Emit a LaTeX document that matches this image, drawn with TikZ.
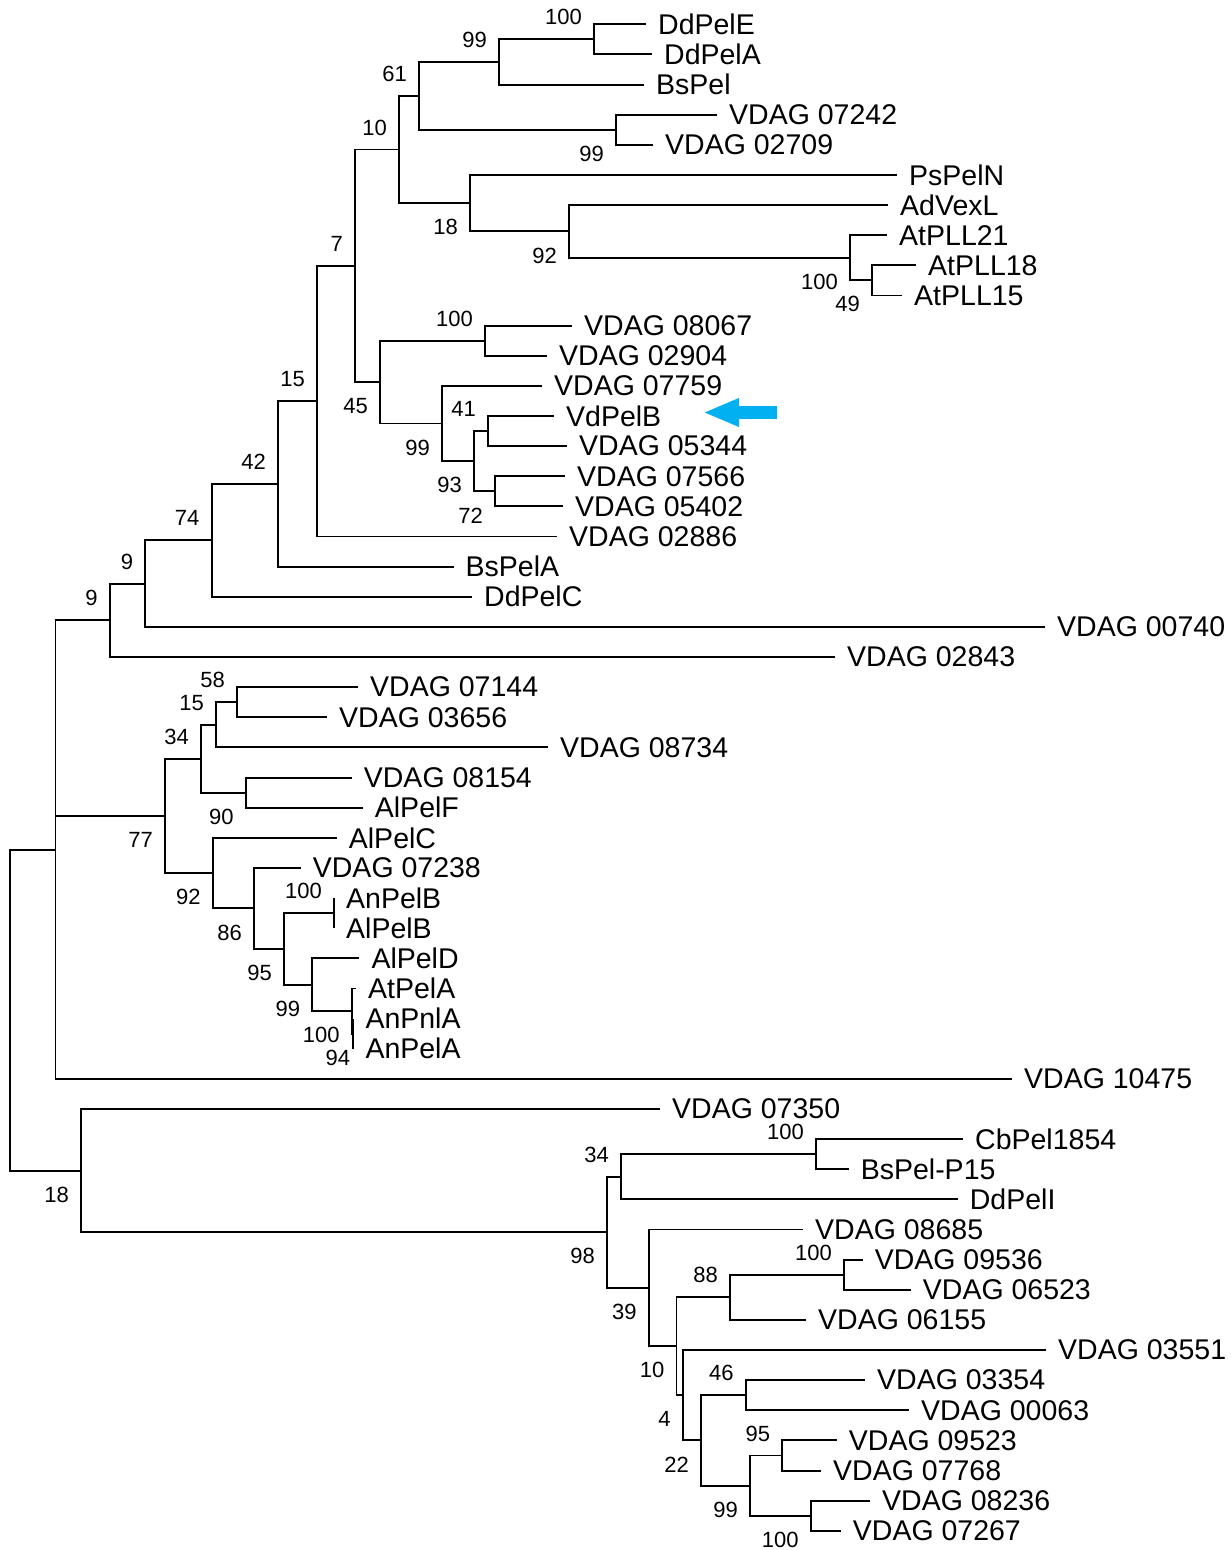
\documentclass[tikz,border=0pt]{standalone}
\usepackage{fontspec}
\setmainfont{Liberation Sans}
\usetikzlibrary{arrows.meta}
\definecolor{arrowblue}{RGB}{0,176,240}
\newcommand{\leaffont}{\fontsize{28.5pt}{30pt}\selectfont}
\newcommand{\bsfont}{\fontsize{22pt}{24pt}\selectfont}
\tikzset{
  leaf/.style={anchor=west,inner xsep=12pt,inner ysep=0pt,font=\leaffont},
  bsa/.style={anchor=east,inner sep=0pt,font=\bsfont,xshift=-12pt,yshift=22pt},
  bsb/.style={anchor=east,inner sep=0pt,font=\bsfont,xshift=-12pt,yshift=-24pt},
  branch/.style={line width=1.9pt},
  pointer/.style={draw=arrowblue,line width=12.3pt,-{Triangle[length=36pt,width=26pt]}}
}
\begin{document}
\begin{tikzpicture}[x=1pt,y=-30.13pt]
  \useasboundingbox (0,-0.8065) rectangle (1231,50.637);
  % leaves
  \node[leaf] (DdPelE) at (646,0) {DdPelE};
  \node[leaf] (DdPelA) at (652,1) {DdPelA};
  \node[leaf] (BsPel) at (644,2) {BsPel};
  \node[leaf] (v07242) at (717,3) {VDAG 07242};
  \node[leaf] (v02709) at (653,4) {VDAG 02709};
  \node[leaf] (PsPelN) at (897,5) {PsPelN};
  \node[leaf] (AdVexL) at (888,6) {AdVexL};
  \node[leaf] (AtPLL21) at (887,7) {AtPLL21};
  \node[leaf] (AtPLL18) at (916,8) {AtPLL18};
  \node[leaf] (AtPLL15) at (902,9) {AtPLL15};
  \node[leaf] (v08067) at (572,10) {VDAG 08067};
  \node[leaf] (v02904) at (547,11) {VDAG 02904};
  \node[leaf] (v07759) at (542,12) {VDAG 07759};
  \node[leaf] (VdPelB) at (554,13) {VdPelB};
  \node[leaf] (v05344) at (567,14) {VDAG 05344};
  \node[leaf] (v07566) at (565,15) {VDAG 07566};
  \node[leaf] (v05402) at (563,16) {VDAG 05402};
  \node[leaf] (v02886) at (557,17) {VDAG 02886};
  \node[leaf] (BsPelA) at (453.5,18) {BsPelA};
  \node[leaf] (DdPelC) at (472,19) {DdPelC};
  \node[leaf] (v00740) at (1045,20) {VDAG 00740};
  \node[leaf] (v02843) at (835,21) {VDAG 02843};
  \node[leaf] (v07144) at (358,22) {VDAG 07144};
  \node[leaf] (v03656) at (327,23) {VDAG 03656};
  \node[leaf] (v08734) at (548,24) {VDAG 08734};
  \node[leaf] (v08154) at (351.7,25) {VDAG 08154};
  \node[leaf] (AlPelF) at (362.7,26) {AlPelF};
  \node[leaf] (AlPelC) at (336.7,27) {AlPelC};
  \node[leaf] (v07238) at (300.7,28) {VDAG 07238};
  \node[leaf] (AnPelB) at (334,29) {AnPelB};
  \node[leaf] (AlPelB) at (334,30) {AlPelB};
  \node[leaf] (AlPelD) at (359.3,31) {AlPelD};
  \node[leaf] (AtPelA) at (356,32) {AtPelA};
  \node[leaf] (AnPnlA) at (353.3,33) {AnPnlA};
  \node[leaf] (AnPelA) at (353.3,34) {AnPelA};
  \node[leaf] (v10475) at (1012,35) {VDAG 10475};
  \node[leaf] (v07350) at (660,36) {VDAG 07350};
  \node[leaf] (CbPel1854) at (963,37) {CbPel1854};
  \node[leaf] (BsPelP15) at (848.6,38) {BsPel-P15};
  \node[leaf] (DdPelI) at (957.7,39) {DdPelI};
  \node[leaf] (v08685) at (803,40) {VDAG 08685};
  \node[leaf] (v09536) at (862.6,41) {VDAG 09536};
  \node[leaf] (v06523) at (910.7,42) {VDAG 06523};
  \node[leaf] (v06155) at (806,43) {VDAG 06155};
  \node[leaf] (v03551) at (1046,44) {VDAG 03551};
  \node[leaf] (v03354) at (865,45) {VDAG 03354};
  \node[leaf] (v00063) at (909,46) {VDAG 00063};
  \node[leaf] (v09523) at (836.7,47) {VDAG 09523};
  \node[leaf] (v07768) at (821,48) {VDAG 07768};
  \node[leaf] (v08236) at (870,49) {VDAG 08236};
  \node[leaf] (v07267) at (840.7,50) {VDAG 07267};
  % inner nodes
  \coordinate (n100a) at (594,0.5);
  \coordinate (n99a) at (499,1.25);
  \coordinate (n99b) at (616,3.5);
  \coordinate (n61) at (419,2.375);
  \coordinate (n49) at (872,8.5);
  \coordinate (n100b) at (850,7.75);
  \coordinate (n92a) at (569,6.875);
  \coordinate (n18a) at (470,5.9375);
  \coordinate (n10a) at (399,4.1563);
  \coordinate (n100c) at (485,10.5);
  \coordinate (n41) at (488,13.5);
  \coordinate (n72) at (495,15.5);
  \coordinate (n93) at (474,14.5);
  \coordinate (n99c) at (442,13.25);
  \coordinate (n45) at (380,11.875);
  \coordinate (n7) at (355,8.0156);
  \coordinate (n15a) at (317,12.5078);
  \coordinate (n42) at (278,15.2539);
  \coordinate (n74) at (211.6,17.127);
  \coordinate (n9a) at (145.4,18.5635);
  \coordinate (n9b) at (109.8,19.7818);
  \coordinate (n58) at (237,22.5);
  \coordinate (n15b) at (216,23.25);
  \coordinate (n90) at (245.7,25.5);
  \coordinate (n34a) at (201,24.375);
  \coordinate (n100d) at (334,29.5);
  \coordinate (n94) at (353.3,33.5);
  \coordinate (n100e) at (351.7,32.75);
  \coordinate (n99d) at (312.3,31.875);
  \coordinate (n95a) at (284,30.6875);
  \coordinate (n86) at (254,29.344);
  \coordinate (n92b) at (212.7,28.172);
  \coordinate (n77) at (165,26.273);
  \coordinate (upper) at (55.5,27.391);
  \coordinate (n100f) at (816,37.5);
  \coordinate (n34b) at (621,38.25);
  \coordinate (n100g) at (844,41.5);
  \coordinate (n88) at (730,42.25);
  \coordinate (n46) at (745.7,45.5);
  \coordinate (n95b) at (782.3,47.5);
  \coordinate (n100h) at (810.7,49.5);
  \coordinate (n99e) at (750,48.5);
  \coordinate (n22) at (701,47);
  \coordinate (n4) at (682.7,45.5);
  \coordinate (n10b) at (676.5,43.875);
  \coordinate (n39) at (648.8,41.9375);
  \coordinate (n98) at (607,40.094);
  \coordinate (n18b) at (81,38.047);
  \coordinate (root) at (10.3,32.719);
  % branches
  \draw[branch] (n100a) |- (DdPelE.west) (n100a) |- (DdPelA.west);
  \draw[branch] (n99a) |- (n100a) (n99a) |- (BsPel.west);
  \draw[branch] (n99b) |- (v07242.west) (n99b) |- (v02709.west);
  \draw[branch] (n61) |- (n99a) (n61) |- (n99b);
  \draw[branch] (n49) |- (AtPLL18.west) (n49) |- (AtPLL15.west);
  \draw[branch] (n100b) |- (AtPLL21.west) (n100b) |- (n49);
  \draw[branch] (n92a) |- (AdVexL.west) (n92a) |- (n100b);
  \draw[branch] (n18a) |- (PsPelN.west) (n18a) |- (n92a);
  \draw[branch] (n10a) |- (n61) (n10a) |- (n18a);
  \draw[branch] (n100c) |- (v08067.west) (n100c) |- (v02904.west);
  \draw[branch] (n41) |- (VdPelB.west) (n41) |- (v05344.west);
  \draw[branch] (n72) |- (v07566.west) (n72) |- (v05402.west);
  \draw[branch] (n93) |- (n41) (n93) |- (n72);
  \draw[branch] (n99c) |- (v07759.west) (n99c) |- (n93);
  \draw[branch] (n45) |- (n100c) (n45) |- (n99c);
  \draw[branch] (n7) |- (n10a) (n7) |- (n45);
  \draw[branch] (n15a) |- (n7) (n15a) |- (v02886.west);
  \draw[branch] (n42) |- (n15a) (n42) |- (BsPelA.west);
  \draw[branch] (n74) |- (n42) (n74) |- (DdPelC.west);
  \draw[branch] (n9a) |- (n74) (n9a) |- (v00740.west);
  \draw[branch] (n9b) |- (n9a) (n9b) |- (v02843.west);
  \draw[branch] (n58) |- (v07144.west) (n58) |- (v03656.west);
  \draw[branch] (n15b) |- (n58) (n15b) |- (v08734.west);
  \draw[branch] (n90) |- (v08154.west) (n90) |- (AlPelF.west);
  \draw[branch] (n34a) |- (n15b) (n34a) |- (n90);
  \draw[branch] (n100d) |- (AnPelB.west) (n100d) |- (AlPelB.west);
  \draw[branch] (n94) |- (AnPnlA.west) (n94) |- (AnPelA.west);
  \draw[branch] (n100e) |- (AtPelA.west) (n100e) |- (n94);
  \draw[branch] (n99d) |- (AlPelD.west) (n99d) |- (n100e);
  \draw[branch] (n95a) |- (n100d) (n95a) |- (n99d);
  \draw[branch] (n86) |- (v07238.west) (n86) |- (n95a);
  \draw[branch] (n92b) |- (AlPelC.west) (n92b) |- (n86);
  \draw[branch] (n77) |- (n34a) (n77) |- (n92b);
  \draw[branch] (upper) |- (n9b) (upper) |- (n77) (upper) |- (v10475.west);
  \draw[branch] (n100f) |- (CbPel1854.west) (n100f) |- (BsPelP15.west);
  \draw[branch] (n34b) |- (n100f) (n34b) |- (DdPelI.west);
  \draw[branch] (n100g) |- (v09536.west) (n100g) |- (v06523.west);
  \draw[branch] (n88) |- (n100g) (n88) |- (v06155.west);
  \draw[branch] (n46) |- (v03354.west) (n46) |- (v00063.west);
  \draw[branch] (n95b) |- (v09523.west) (n95b) |- (v07768.west);
  \draw[branch] (n100h) |- (v08236.west) (n100h) |- (v07267.west);
  \draw[branch] (n99e) |- (n95b) (n99e) |- (n100h);
  \draw[branch] (n22) |- (n46) (n22) |- (n99e);
  \draw[branch] (n4) |- (v03551.west) (n4) |- (n22);
  \draw[branch] (n10b) |- (n88) (n10b) |- (n4);
  \draw[branch] (n39) |- (v08685.west) (n39) |- (n10b);
  \draw[branch] (n98) |- (n34b) (n98) |- (n39);
  \draw[branch] (n18b) |- (v07350.west) (n18b) |- (n98);
  \draw[branch] (root) |- (upper) (root) |- (n18b);
  % bootstrap values
  \node[bsa] (b100a) at (n100a) {100};
  \node[bsa] (b99a) at (n99a) {99};
  \node[bsa] (b61) at (n61) {61};
  \node[bsb] (b99b) at (n99b) {99};
  \node[bsa] (b10a) at (n10a) {10};
  \node[bsb] (b18a) at (n18a) {18};
  \node[bsb] (b92a) at (n92a) {92};
  \node[bsb] (b100b) at (n100b) {100};
  \node[bsb] (b49) at (n49) {49};
  \node[bsa] (b7) at (n7) {7};
  \node[bsa] (b100c) at (n100c) {100};
  \node[bsb] (b45) at (n45) {45};
  \node[bsa] (b41) at (n41) {41};
  \node[bsb] (b99c) at (n99c) {99};
  \node[bsb] (b93) at (n93) {93};
  \node[bsb] (b72) at (n72) {72};
  \node[bsa] (b15a) at (n15a) {15};
  \node[bsa] (b42) at (n42) {42};
  \node[bsa] (b74) at (n74) {74};
  \node[bsa] (b9a) at (n9a) {9};
  \node[bsa] (b9b) at (n9b) {9};
  \node[bsa] (b58) at (n58) {58};
  \node[bsa] (b15b) at (n15b) {15};
  \node[bsa] (b34a) at (n34a) {34};
  \node[bsb] (b90) at (n90) {90};
  \node[bsb] (b77) at (n77) {77};
  \node[bsb] (b92b) at (n92b) {92};
  \node[bsa] (b100d) at (n100d) {100};
  \node[bsb] (b86) at (n86) {86};
  \node[bsb] (b95a) at (n95a) {95};
  \node[bsb] (b99d) at (n99d) {99};
  \node[bsb] (b100e) at (n100e) {100};
  \node[bsb,xshift=9pt] (b94) at (n94) {94};
  \node[bsb] (b18b) at (n18b) {18};
  \node[bsa] (b34b) at (n34b) {34};
  \node[bsa] (b100f) at (n100f) {100};
  \node[bsb] (b98) at (n98) {98};
  \node[bsa] (b100g) at (n100g) {100};
  \node[bsa] (b88) at (n88) {88};
  \node[bsb] (b39) at (n39) {39};
  \node[bsb] (b10b) at (n10b) {10};
  \node[bsa] (b46) at (n46) {46};
  \node[bsb] (b4) at (n4) {4};
  \node[bsa] (b95b) at (n95b) {95};
  \node[bsb] (b22) at (n22) {22};
  \node[bsb] (b99e) at (n99e) {99};
  \node[bsb] (b100h) at (n100h) {100};
  % marker
  \coordinate (ptrtail) at (777,12.884);
  \coordinate (ptrhead) at (703,12.884);
  \draw[pointer] (ptrtail) -- (ptrhead);
\end{tikzpicture}
\end{document}
